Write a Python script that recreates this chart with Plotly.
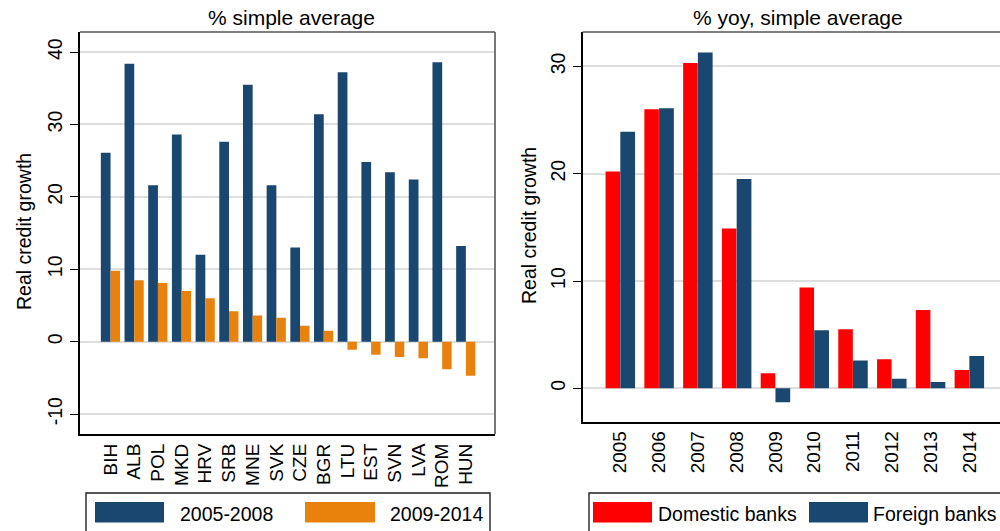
import plotly.graph_objects as go

# Left panel: average real credit growth by country, two periods
countries = ["BIH", "ALB", "POL", "MKD", "HRV", "SRB", "MNE", "SVK",
             "CZE", "BGR", "LTU", "EST", "SVN", "LVA", "ROM", "HUN"]
growth_2005_2008 = [26.1, 38.4, 21.6, 28.6, 12.0, 27.6, 35.5, 21.6,
                    13.0, 31.4, 37.2, 24.8, 23.4, 22.4, 38.6, 13.2]
growth_2009_2014 = [9.8, 8.5, 8.1, 7.0, 6.0, 4.2, 3.6, 3.3,
                    2.2, 1.5, -1.1, -1.8, -2.1, -2.3, -3.8, -4.7]
left_ticks = [-10, 0, 10, 20, 30, 40]
left_ticklabels = ["-10", "0", "10", "20", "30", "40"]

# Right panel: yearly real credit growth by bank ownership
years = ["2005", "2006", "2007", "2008", "2009",
         "2010", "2011", "2012", "2013", "2014"]
domestic_banks = [20.2, 26.0, 30.3, 14.9, 1.4, 9.4, 5.5, 2.7, 7.3, 1.7]
foreign_banks = [23.9, 26.1, 31.3, 19.5, -1.3, 5.4, 2.6, 0.9, 0.6, 3.0]
right_ticks = [0, 10, 20, 30]
right_ticklabels = ["0", "10", "20", "30"]

NAVY = "#1a476f"
ORANGE = "#e8820c"
RED = "#ff0000"
FONT = "Liberation Sans"
W, H = 1000, 531


def px(x):
    return x / W


def py(y):
    return 1 - y / H


fig = go.Figure()

fig.add_trace(go.Bar(x=countries, y=growth_2005_2008, name="2005-2008",
                     marker=dict(color=NAVY, line=dict(width=0)),
                     offset=-0.41, width=0.41, xaxis="x", yaxis="y"))
fig.add_trace(go.Bar(x=countries, y=growth_2009_2014, name="2009-2014",
                     marker=dict(color=ORANGE, line=dict(width=0)),
                     offset=0.0, width=0.40, xaxis="x", yaxis="y"))
fig.add_trace(go.Bar(x=years, y=domestic_banks, name="Domestic banks",
                     marker=dict(color=RED, line=dict(width=0)),
                     offset=-0.38, width=0.375, xaxis="x2", yaxis="y2"))
fig.add_trace(go.Bar(x=years, y=foreign_banks, name="Foreign banks",
                     marker=dict(color=NAVY, line=dict(width=0)),
                     offset=0.0, width=0.38, xaxis="x2", yaxis="y2"))

xtickfont = dict(family=FONT, size=19, color="#000")
ytickfont = dict(family=FONT, size=19.5, color="#000")
titlefont = dict(family=FONT, size=19.5, color="#000")

xcommon = dict(type="category", showgrid=False, zeroline=False,
               showline=True, linecolor="#000", linewidth=1.6,
               ticks="", tickangle=-90, tickfont=xtickfont,
               fixedrange=True)
ycommon = dict(showgrid=True, gridcolor="#dedede", gridwidth=1.6,
               zeroline=False, showline=True, linecolor="#000",
               linewidth=1.6, ticks="outside", ticklen=8, tickwidth=1.4,
               tickcolor="#000", tickangle=-90, tickfont=ytickfont,
               tickmode="array", fixedrange=True)

L_X0, L_X1 = 80, 495
R_X0, R_X1 = 582.7, 1000
TOP = 32
L_BOT, R_BOT = 434.3, 421.7

fig.update_layout(
    width=W, height=H,
    margin=dict(l=0, r=0, t=0, b=0),
    paper_bgcolor="white", plot_bgcolor="white",
    barmode="overlay", showlegend=False,
    font=dict(family=FONT, color="#000"),
    xaxis=dict(xcommon, domain=[px(L_X0), px(L_X1)], anchor="y",
               range=[-1.29, 16.23]),
    yaxis=dict(ycommon, domain=[py(L_BOT), py(TOP)], anchor="x",
               range=[-12.79, 42.77],
               tickvals=left_ticks, ticktext=left_ticklabels),
    xaxis2=dict(xcommon, domain=[px(R_X0), px(R_X1)], anchor="y2",
                range=[-0.97, 9.79]),
    yaxis2=dict(ycommon, domain=[py(R_BOT), py(TOP)], anchor="x2",
                range=[-3.11, 33.2],
                tickvals=right_ticks, ticktext=right_ticklabels),
)

shapes = []
annotations = []

# Gray top/right frame edges of each plot region
frame = dict(type="line", xref="paper", yref="paper",
             line=dict(color="#555555", width=1.6))
shapes.append(dict(frame, x0=px(L_X0), x1=px(L_X1), y0=py(TOP), y1=py(TOP)))
shapes.append(dict(frame, x0=px(L_X1), x1=px(L_X1), y0=py(TOP), y1=py(L_BOT)))
shapes.append(dict(frame, x0=px(R_X0), x1=1.0, y0=py(TOP), y1=py(TOP)))

# Panel titles
annotations.append(dict(text="% simple average", x=px(291), y=py(17),
                        xref="paper", yref="paper", showarrow=False,
                        font=dict(family=FONT, size=21, color="#000"),
                        xanchor="center", yanchor="middle"))
annotations.append(dict(text="% yoy, simple average", x=px(798), y=py(17),
                        xref="paper", yref="paper", showarrow=False,
                        font=dict(family=FONT, size=21, color="#000"),
                        xanchor="center", yanchor="middle"))

# Vertical axis titles
for cx, top, bot in [(24, TOP, L_BOT), (529, TOP, R_BOT)]:
    annotations.append(dict(text="Real credit growth", textangle=-90,
                            x=px(cx), y=py(232 if cx < 100 else 226),
                            xref="paper", yref="paper", showarrow=False,
                            font=titlefont, xanchor="center",
                            yanchor="middle"))

# Legend boxes drawn below each panel
box = dict(type="rect", xref="paper", yref="paper",
           line=dict(color="#222", width=1.4), fillcolor="rgba(0,0,0,0)")
shapes.append(dict(box, x0=px(86), x1=px(490), y0=py(493), y1=py(545)))
shapes.append(dict(box, x0=px(589), x1=px(1010), y0=py(493), y1=py(545)))

legend_items = [
    ("2005-2008", NAVY, 95, 164, 178),
    ("2009-2014", ORANGE, 305, 375, 388),
    ("Domestic banks", RED, 593, 652, 655.5),
    ("Foreign banks", NAVY, 809, 868, 870.5),
]
for label, color, sx0, sx1, tx in legend_items:
    shapes.append(dict(type="rect", xref="paper", yref="paper",
                       x0=px(sx0), x1=px(sx1), y0=py(522.5), y1=py(502),
                       line=dict(width=0), fillcolor=color))
    annotations.append(dict(text=label, x=px(tx), y=py(513.5),
                            xref="paper", yref="paper", showarrow=False,
                            font=dict(family=FONT, size=19.5, color="#000"),
                            xanchor="left", yanchor="middle"))

fig.update_layout(shapes=shapes, annotations=annotations)

fig.write_html("out.html", config={"displayModeBar": False})
